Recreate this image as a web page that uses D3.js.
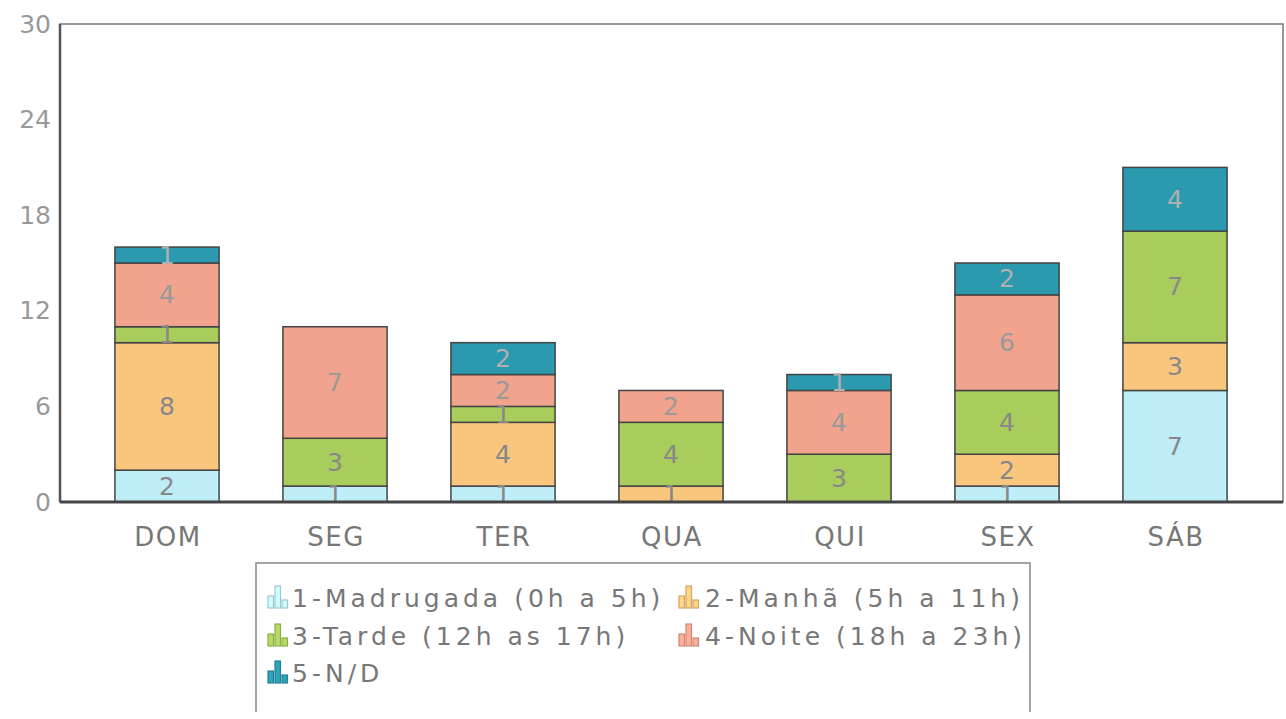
<!DOCTYPE html>
<html><head><meta charset="utf-8">
<script src="https://cdn.jsdelivr.net/npm/d3@7"></script>
<style>body{margin:0;background:#fff}svg{display:block}</style>
</head><body>
<svg id="c" width="1286" height="719"></svg>
<script>
const days = ["DOM","SEG","TER","QUA","QUI","SEX","SÁB"];
const seriesNames = ["1-Madrugada (0h a 5h)","2-Manhã (5h a 11h)","3-Tarde (12h as 17h)","4-Noite (18h a 23h)","5-N/D"];
const madrugada = [2,1,1,0,0,1,7];
const manha     = [8,0,4,1,0,2,3];
const tarde     = [1,3,1,4,3,4,7];
const noite     = [4,7,2,2,4,6,0];
const nd        = [1,0,2,0,1,2,4];
const yTicks = [0,6,12,18,24,30];
const colors = ["#bfedf7","#f8c67d","#a9cd5c","#f2a38d","#2b99ae"];
const labelColors = ["#888","#888","#888","#999","#b0b0b0"];

const seriesVals = [madrugada, manha, tarde, noite, nd];
const rows = days.map((d,i)=>{const o={day:d}; seriesNames.forEach((s,k)=>o[s]=seriesVals[k][i]); return o;});
const stack = d3.stack().keys(seriesNames)(rows);

const svg = d3.select("#c");
const L=60, R=1283, T=24, B=502;
const x = d3.scaleBand().domain(days).range([83,1259]).paddingInner(0.38).paddingOuter(0.19);
const y = d3.scaleLinear().domain([0,30]).range([B,T]);
const font = "DejaVu Sans, Verdana, sans-serif";

// frame
svg.append("rect").attr("x",L).attr("y",T).attr("width",R-L).attr("height",B-T)
  .attr("fill","none").attr("stroke","#777").attr("stroke-width",1.5);
svg.append("line").attr("x1",L).attr("x2",L).attr("y1",T).attr("y2",B).attr("stroke","#555").attr("stroke-width",2.5);

// bars
stack.forEach((layer,k)=>{
  const g = svg.append("g");
  layer.forEach((seg,i)=>{
    const v = seg[1]-seg[0];
    if(v<=0) return;
    g.append("rect").attr("x",x(days[i])).attr("y",y(seg[1]))
      .attr("width",x.bandwidth()).attr("height",y(seg[0])-y(seg[1]))
      .attr("fill",colors[k]).attr("stroke","#444").attr("stroke-width",1.5);
  });
});
stack.forEach((layer,k)=>{
  layer.forEach((seg,i)=>{
    const v = seg[1]-seg[0];
    if(v<=0) return;
    svg.append("text").attr("x",x(days[i])+x.bandwidth()/2).attr("y",(y(seg[0])+y(seg[1]))/2)
      .attr("text-anchor","middle").attr("dominant-baseline","central")
      .attr("font-family",font).attr("font-size",25).attr("fill",labelColors[k]).text(v);
  });
});

// baseline
svg.append("line").attr("x1",L).attr("x2",R).attr("y1",B).attr("y2",B).attr("stroke","#444").attr("stroke-width",3);

// y ticks
svg.append("g").selectAll("text").data(yTicks).join("text")
  .attr("x",51).attr("y",d=>y(d)).attr("text-anchor","end").attr("dominant-baseline","central")
  .attr("font-family",font).attr("font-size",25).attr("fill","#999").text(d=>d);

// x labels
svg.append("g").selectAll("text").data(days).join("text")
  .attr("x",d=>x(d)+x.bandwidth()/2+1).attr("y",546).attr("text-anchor","middle")
  .attr("font-family",font).attr("font-size",26).attr("letter-spacing",1.5).attr("fill","#777").text(d=>d);

// legend
const lg = svg.append("g");
lg.append("path").attr("d","M256,712 V563 H1030 V712").attr("fill","none").attr("stroke","#888").attr("stroke-width",1.5);
const pos = [[268,598],[679,598],[268,636],[679,636],[268,673]];
seriesNames.forEach((s,k)=>{
  const [px,py] = pos[k];
  const dark = d3.color(colors[k]).darker(0.5);
  const icon = lg.append("g");
  [[0,12],[7,22],[14,8]].forEach(([dx,h])=>{
    icon.append("rect").attr("x",px+dx).attr("y",py+10-h).attr("width",5.5).attr("height",h)
      .attr("fill",d3.color(colors[k]).brighter(0.2)).attr("stroke",dark).attr("stroke-width",1.2);
  });
  lg.append("text").attr("x",px+24+(k%2?2:0)).attr("y",py+9)
    .attr("font-family",font).attr("font-size",25).attr("letter-spacing",4).attr("fill","#777").text(s);
});
</script>
</body></html>
